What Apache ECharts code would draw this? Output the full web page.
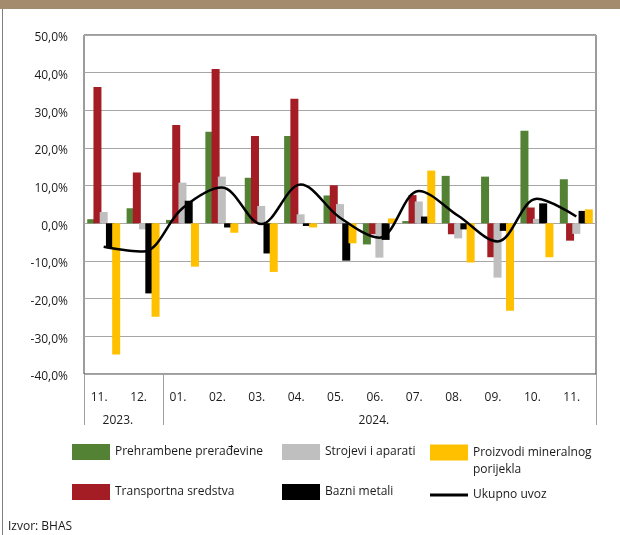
<!DOCTYPE html>
<html>
<head>
<meta charset="utf-8">
<script src="https://cdn.jsdelivr.net/npm/echarts@6/dist/echarts.min.js"></script>
<style>
html,body{margin:0;padding:0;background:#fff;}
#chart{width:620px;height:535px;}
</style>
</head>
<body>
<div id="chart"></div>
<script>
var months = ['11.','12.','01.','02.','03.','04.','05.','06.','07.','08.','09.','10.','11.'];
var years = ['2023.', '2024.'];
var yearSpans = [2, 11];
var prehrambene = [1.1, 4.0, 0.9, 24.3, 12.1, 23.2, 7.4, -5.6, 0.6, 12.6, 12.4, 24.6, 11.7];
var transportna = [36.2, 13.5, 26.1, 41.0, 23.2, 33.1, 10.1, -2.9, 7.5, -2.9, -9.0, 4.2, -4.6];
var strojevi = [3.0, -1.6, 10.8, 12.4, 4.6, 2.4, 5.1, -9.1, 5.8, -4.0, -14.4, 1.2, -2.8];
var bazni = [-6.6, -18.6, 6.0, -1.1, -8.0, -0.7, -9.9, -4.4, 1.8, -1.6, -2.0, 5.3, 3.3];
var proizvodi = [-34.8, -24.8, -11.5, -2.5, -12.9, -1.1, -5.3, 1.3, 14.0, -10.4, -23.2, -9.0, 3.7];
var ukupno = [-6.2, -7.5, 4.0, 9.5, -0.2, 10.3, 1.5, -3.8, 8.6, 2.0, -4.8, 6.5, 1.8];

var names = {
  pre: 'Prehrambene prerađevine',
  tra: 'Transportna sredstva',
  str: 'Strojevi i aparati',
  baz: 'Bazni metali',
  pro: 'Proizvodi mineralnog porijekla',
  uku: 'Ukupno uvoz'
};
var colors = {pre:'#548235', tra:'#A51D24', str:'#BFBFBF', baz:'#000000', pro:'#FFC000', uku:'#000000'};

// half-slot year axis (boundaryGap false): 2*months+1 points
var yearSlots = [];
for (var i = 0; i <= months.length * 2; i++) yearSlots.push('');
var sepIdx = [0];
var start = 0;
for (var k = 0; k < years.length; k++) {
  yearSlots[start * 2 + yearSpans[k]] = years[k];
  start += yearSpans[k];
  sepIdx.push(start * 2);
}

var font = 'Open Sans';
var txt = '#1a1a1a';

function barSeries(key, data) {
  return {
    name: names[key], type: 'bar', data: data,
    barWidth: 8, barGap: '-22%',
    itemStyle: {color: colors[key]},
    xAxisIndex: 0, yAxisIndex: 0
  };
}

function oneLegend(key, left, top, extra) {
  var l = {
    data: [names[key]], left: left, top: top, padding: 0,
    itemWidth: 38, itemHeight: 16, itemGap: 0,
    icon: 'rect',
    textStyle: {fontFamily: font, fontSize: 12, color: txt},
    selectedMode: false
  };
  if (extra) for (var p in extra) l[p] = extra[p];
  return l;
}

var chart = echarts.init(document.getElementById('chart'), null, {renderer: 'canvas'});
chart.setOption({
  animation: false,
  backgroundColor: '#fff',
  textStyle: {fontFamily: font},
  title: {
    text: 'Izvor: BHAS', left: 3, top: 516,
    textStyle: {fontFamily: font, fontSize: 12, fontWeight: 'normal', color: txt}
  },
  graphic: [
    {type: 'rect', shape: {x: 0, y: 0, width: 620, height: 9}, style: {fill: '#A58B6E'}, silent: true},
    {type: 'line', shape: {x1: 2.5, y1: 9, x2: 2.5, y2: 535}, style: {stroke: '#7f7f7f', lineWidth: 1}, silent: true}
  ],
  legend: [
    oneLegend('pre', 72, 444),
    oneLegend('str', 282, 444),
    oneLegend('pro', 430, 427, {formatter: function(){ return '\nProizvodi mineralnog\nporijekla'; },
      textStyle: {fontFamily: font, fontSize: 12, color: txt, lineHeight: 17}}),
    oneLegend('tra', 72, 484),
    oneLegend('baz', 282, 484),
    oneLegend('uku', 430, 489, {icon: 'path://M0,0 L38,0 L38,3 L0,3 Z', itemHeight: 3})
  ],
  grid: {left: 84, right: 24, top: 35, bottom: 161, show: true, borderColor: '#3a3a3a', borderWidth: 1, backgroundColor: 'transparent'},
  xAxis: [
    {
      type: 'category', data: months, position: 'bottom',
      axisLine: {show: false}, axisTick: {show: false},
      axisLabel: {interval: 0, margin: 18, padding: [0, 9, 0, 0], fontFamily: font, fontSize: 12, color: txt}
    },
    {
      type: 'category', data: yearSlots, position: 'bottom', boundaryGap: false,
      axisLine: {show: false},
      axisTick: {show: true, length: 51, interval: function(idx){ return sepIdx.indexOf(idx) >= 0; },
        lineStyle: {color: '#a0a0a0', width: 1}},
      axisLabel: {interval: 0, margin: 41, padding: [0, 11, 0, 0], fontFamily: font, fontSize: 12, color: txt},
      splitLine: {show: false}
    }
  ],
  yAxis: {
    type: 'value', min: -40, max: 50, interval: 10,
    axisLine: {show: false}, axisTick: {show: false},
    axisLabel: {margin: 16, verticalAlign: 'top', lineHeight: 6, fontFamily: font, fontSize: 12, color: txt,
      formatter: function(v){ return v.toFixed(1).replace('.', ',') + '%'; }},
    splitLine: {lineStyle: {color: '#a6a6a6', width: 1}}
  },
  series: [
    barSeries('pre', prehrambene),
    barSeries('tra', transportna),
    barSeries('str', strojevi),
    barSeries('baz', bazni),
    barSeries('pro', proizvodi),
    {
      name: names.uku, type: 'line', data: ukupno, smooth: 0.35,
      showSymbol: false, symbol: 'none',
      lineStyle: {color: '#000', width: 2.5},
      itemStyle: {color: '#000'},
      z: 5
    }
  ]
});
</script>
</body>
</html>
